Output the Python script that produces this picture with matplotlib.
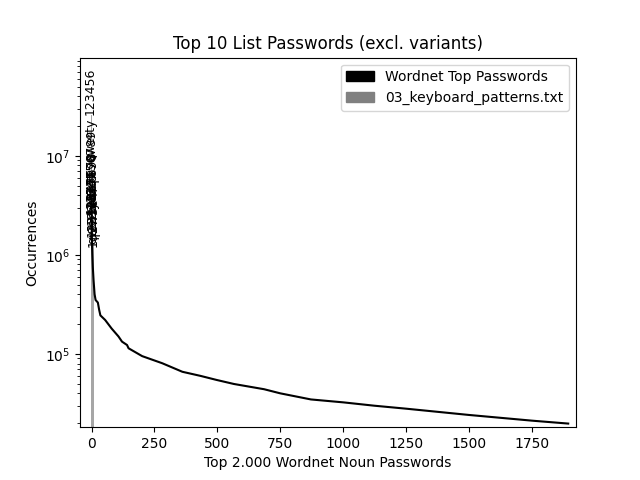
import matplotlib
matplotlib.use("Agg")
import matplotlib.pyplot as plt
import matplotlib.patches as mpatches

# Wordnet noun passwords (rank -> occurrences)
wordnet_rank = [0, 1, 2, 3, 5, 8, 12, 16, 25, 30, 35, 54, 80, 107, 121, 141, 147,
                201, 281, 361, 433, 497, 566, 686, 750, 872, 1002, 1124, 1250,
                1500, 1750, 1895]
wordnet_counts = [3.7e6, 1.6e6, 1.2e6, 1.0e6, 7.5e5, 5.5e5, 4.0e5, 3.5e5, 3.3e5,
                  2.8e5, 2.45e5, 2.2e5, 1.8e5, 1.5e5, 1.33e5, 1.23e5, 1.14e5,
                  9.5e4, 8.05e4, 6.6e4, 6.0e4, 5.46e4, 4.97e4, 4.4e4, 4.0e4,
                  3.47e4, 3.24e4, 3.0e4, 2.8e4, 2.42e4, 2.12e4, 1.98e4]

# Keyboard patterns (top 10)
kb_labels = ["123456", "qwerty", "123456789", "12345", "12345678", "1234567",
             "1234567890", "123123", "qwertyuiop", "1q2w3e4r"]
kb_counts = [2.6e7, 8.6e6, 3.6e6, 3.0e6, 2.6e6, 2.0e6, 1.8e6, 1.5e6, 1.3e6, 1.2e6]
kb_pos = list(range(len(kb_labels)))

fig, ax = plt.subplots(figsize=(6.4, 4.8), dpi=100)
ax.bar(kb_pos, kb_counts, width=1.2, color="gray", alpha=0.7, zorder=1)
ax.plot(wordnet_rank, wordnet_counts, color="black", lw=1.5, zorder=2)
for p, lab, c in zip(kb_pos, kb_labels, kb_counts):
    ax.text(p * 1.2 - 5, c, lab, rotation=90, ha="center", va="bottom",
            fontsize=9, zorder=3)

ax.set_yscale("log")
ax.set_xlim(-46, 1926)
ax.set_ylim(1.82e4, 9.8e7)
ax.set_xticks([0, 250, 500, 750, 1000, 1250, 1500, 1750])
ax.set_title("Top 10 List Passwords (excl. variants)")
ax.set_xlabel("Top 2.000 Wordnet Noun Passwords")
ax.set_ylabel("Occurrences")
handles = [mpatches.Patch(color="black", label="Wordnet Top Passwords"),
           mpatches.Patch(color="gray", label="03_keyboard_patterns.txt")]
ax.legend(handles=handles, loc="upper right")
fig.savefig("out.png", dpi=100)
